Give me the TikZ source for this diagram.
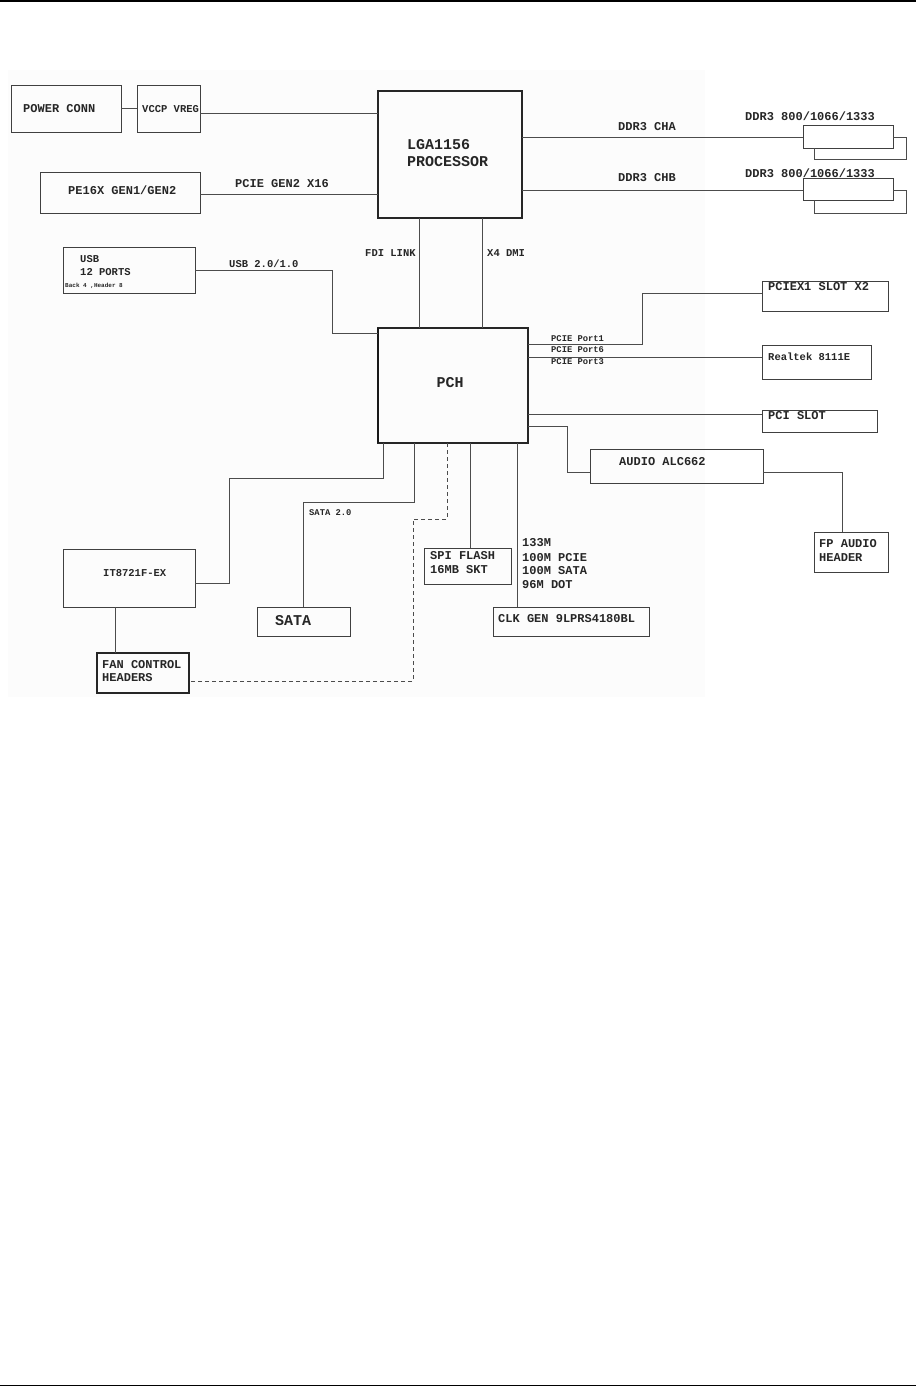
\documentclass[tikz,border=0pt]{standalone}
\usepackage{fontspec}
\setmonofont{Liberation Mono}
\usetikzlibrary{calc}
\tikzset{
  box/.style={draw=black!75, line width=0.9pt, anchor=north west, inner sep=0pt, outer sep=0pt},
  thickbox/.style={box, draw=black!85, line width=1.8pt},
  wire/.style={draw=black!70, line width=0.9pt},
  dwire/.style={wire, dashed, dash pattern=on 4pt off 3pt},
  lbl/.style={anchor=west, inner sep=0pt, font=\ttfamily\bfseries\fontsize{12}{14}\selectfont, text=black!85},
  slbl/.style={lbl, font=\ttfamily\bfseries\fontsize{10.5}{12}\selectfont},
  tlbl/.style={lbl, font=\ttfamily\bfseries\fontsize{8.8}{10}\selectfont},
  big/.style={lbl, font=\ttfamily\bfseries\fontsize{15}{17}\selectfont}
}
\newcommand{\bx}[6][box]{\node[#1, minimum width=#4pt-#2pt, minimum height=#5pt-#3pt] (#6) at (#2,#3) {};}
\begin{document}
\begin{tikzpicture}[x=1pt,y=-1pt]
\useasboundingbox (0,0) rectangle (916,1387);
% page rules
\draw[line width=1.8pt] (0,1) -- (916,1);
\draw[line width=1.8pt] (0,1385.5) -- (916,1385.5);
% faint scanned background
\fill[black!1] (8,70) rectangle (705,697);

% boxes
\bx{11}{85}{121}{132}{pow}
\bx{137}{85}{200}{132}{vccp}
\bx[thickbox]{378}{91}{522}{218}{cpu}
\bx{40}{172}{200}{213}{pe16}
\bx{63}{247}{195}{293}{usb}
\bx[thickbox]{378}{328}{528}{443}{pch}
\bx{803}{125}{893}{148}{dimmA}
\bx{803}{178}{893}{200}{dimmB}
\bx{762}{281}{888}{311}{pciex}
\bx{762}{345}{871}{379}{rtk}
\bx{762}{410}{877}{432}{pci}
\bx{590}{449}{763}{483}{audio}
\bx{814}{532}{888}{572}{fp}
\bx{493}{607}{649}{636}{clk}
\bx{424}{548}{511}{584}{spi}
\bx{257}{607}{350}{636}{sata}
\bx{63}{549}{195}{607}{it}
\bx[thickbox]{97}{653}{189}{693}{fan}
\draw[line width=2.6pt, black!90] (pch.north west) -- (pch.south west);

% second DIMM outlines (behind)
\draw[wire] (dimmA.east |- 0,137) -- (906,137) -- (906,159) -- (814,159) -- (dimmA.south -| 814,0);
\draw[wire] (dimmB.east |- 0,190) -- (906,190) -- (906,213) -- (814,213) -- (dimmB.south -| 814,0);

% connectors
\draw[wire] (pow.east |- 0,108) -- (vccp.west |- 0,108);
\draw[wire] (vccp.east |- 0,113) -- (cpu.west |- 0,113);
\draw[wire] (pe16.east |- 0,194) -- (cpu.west |- 0,194);
\draw[wire] (cpu.east |- 0,137) -- (dimmA.west |- 0,137);
\draw[wire] (cpu.east |- 0,190) -- (dimmB.west |- 0,190);
\draw[wire] (usb.east |- 0,270) -| (332,333) -- (pch.west |- 0,333);
\draw[wire] (cpu.south -| 419,0) -- (pch.north -| 419,0);
\draw[wire] (cpu.south -| 482,0) -- (pch.north -| 482,0);
\draw[wire] (pch.east |- 0,344) -| (642,293) -- (pciex.west |- 0,293);
\draw[wire] (pch.east |- 0,357) -- (rtk.west |- 0,357);
\draw[wire] (pch.east |- 0,414) -- (pci.west |- 0,414);
\draw[wire] (pch.east |- 0,426) -| (567,472) -- (audio.west |- 0,472);
\draw[wire] (audio.east |- 0,472) -| (fp.north -| 842,0);
\draw[wire] (pch.south -| 517,0) -- (clk.north -| 517,0);
\draw[wire] (pch.south -| 470,0) -- (spi.north -| 470,0);
\draw[wire] (pch.south -| 414,0) |- (303,502) -- (sata.north -| 303,0);
\draw[wire] (pch.south -| 383,0) |- (229,478) |- (it.east |- 0,583);
\draw[wire] (it.south -| 115,0) -- (fan.north -| 115,0);
\draw[dwire] (pch.south -| 447,0) |- (413,519) |- (fan.east |- 0,681);

% texts
\node[lbl] (tpow) at (23,109) {POWER CONN};
\node[slbl] (tvccp) at (142,109) {VCCP VREG};
\node[lbl] (tpe16) at (68,190) {PE16X GEN1/GEN2};
\node[lbl] (tgen2) at (235,184) {PCIE GEN2 X16};
\node[big, font=\ttfamily\fontsize{15}{17}\selectfont\bfseries] (tcpu1) at (407,145) {LGA1156};
\node[big, font=\ttfamily\fontsize{15}{17}\selectfont\bfseries] (tcpu2) at (407,162) {PROCESSOR};
\node[lbl] (tcha) at (618,127) {DDR3 CHA};
\node[lbl] (tchb) at (618,178) {DDR3 CHB};
\node[lbl] (tddra) at (745,116) {DDR3 800/1066/1333};
\node[lbl] (tddrb) at (745,173) {DDR3 800/1066/1333};
\node[slbl] (tusb1) at (80,259) {USB};
\node[slbl] (tusb2) at (80,272) {12 PORTS};
\node[lbl, font=\ttfamily\bfseries\fontsize{6}{7}\selectfont] (tusb3) at (65,286) {Back 4 ,Header 8};
\node[slbl] (tusbl) at (229,264) {USB 2.0/1.0};
\node[slbl] (tfdi) at (365,253) {FDI LINK};
\node[slbl] (tdmi) at (487,253) {X4 DMI};
\node[big, anchor=center] (tpch) at (450,383) {PCH};
\node[lbl] (tpciex) at (768,287) {PCIEX1 SLOT X2};
\node[tlbl] (tp1) at (551,339) {PCIE Port1};
\node[tlbl] (tp6) at (551,350) {PCIE Port6};
\node[tlbl] (tp3) at (551,362) {PCIE Port3};
\node[slbl] (trtk) at (768,357) {Realtek 8111E};
\node[lbl] (tpci) at (768,416) {PCI SLOT};
\node[lbl] (taudio) at (619,462) {AUDIO ALC662};
\node[lbl] (tfp1) at (819,544) {FP AUDIO};
\node[lbl] (tfp2) at (819,558) {HEADER};
\node[lbl] (tc1) at (522,543) {133M};
\node[lbl] (tc2) at (522,558) {100M PCIE};
\node[lbl] (tc3) at (522,571) {100M SATA};
\node[lbl] (tc4) at (522,585) {96M DOT};
\node[lbl] (tclk) at (498,619) {CLK GEN 9LPRS4180BL};
\node[lbl] (tspi1) at (430,556) {SPI FLASH};
\node[lbl] (tspi2) at (430,570) {16MB SKT};
\node[tlbl] (tsata2) at (309,513) {SATA 2.0};
\node[big] (tsata) at (275,621) {SATA};
\node[slbl] (tit) at (103,573) {IT8721F-EX};
\node[lbl] (tfan1) at (102,665) {FAN CONTROL};
\node[lbl] (tfan2) at (102,678) {HEADERS};
\end{tikzpicture}
\end{document}
